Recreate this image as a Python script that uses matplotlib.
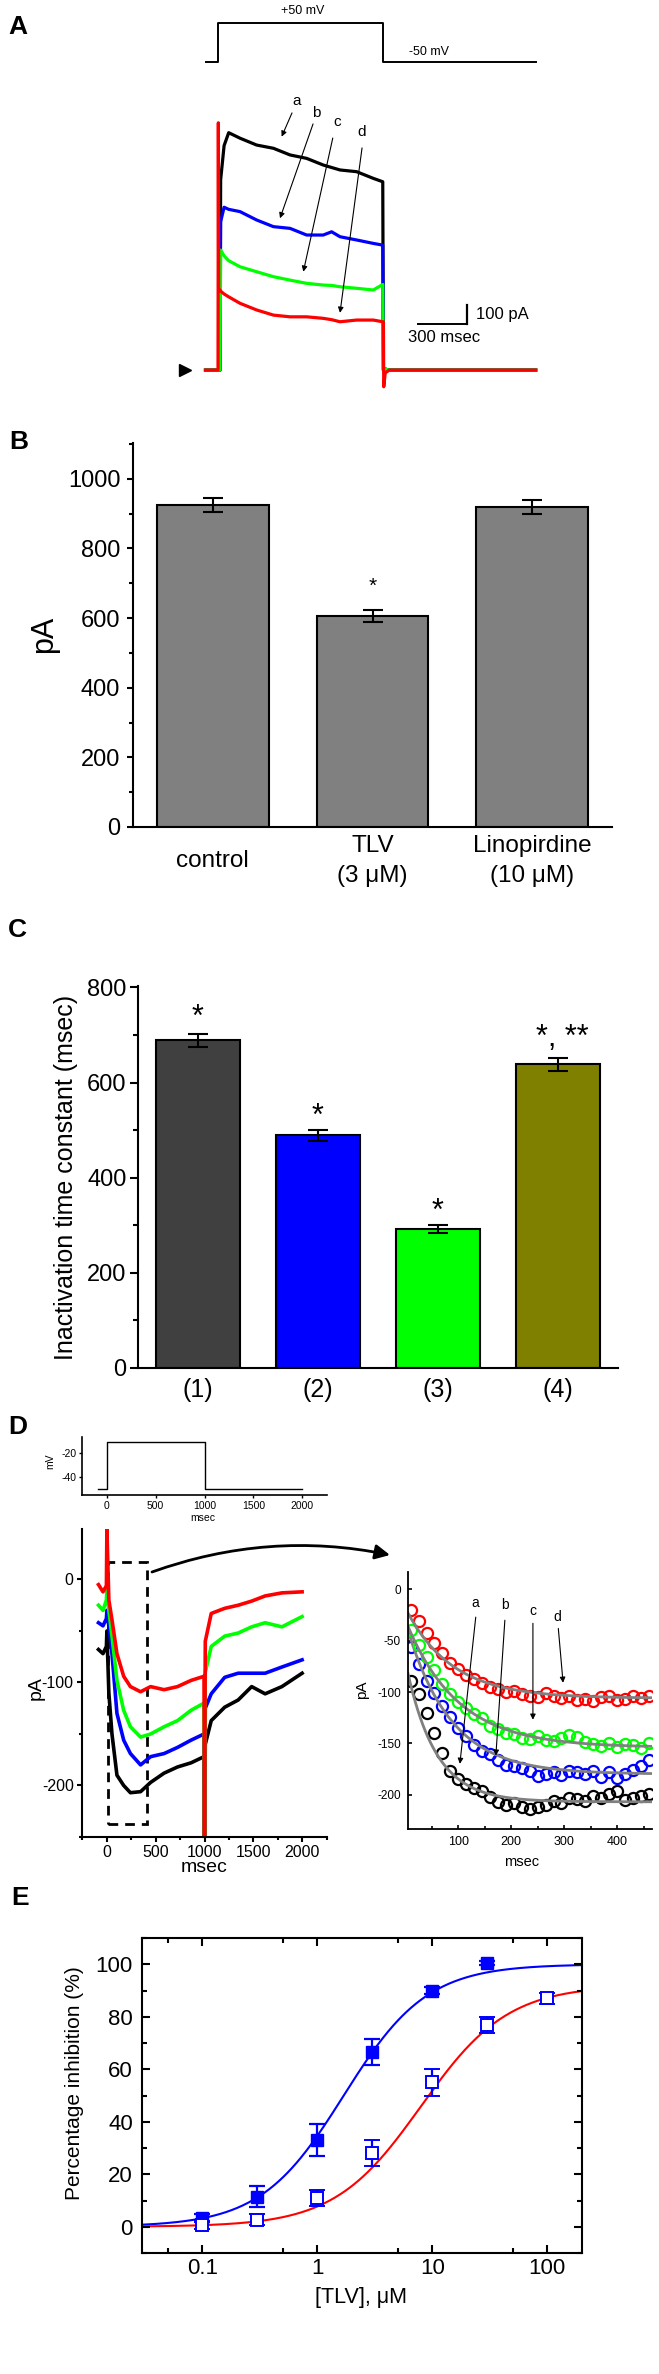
import numpy as np
import matplotlib
matplotlib.use("Agg")
import matplotlib.pyplot as plt
from matplotlib.patches import Rectangle
from matplotlib.ticker import MultipleLocator, FixedLocator, NullFormatter

plt.rcParams['font.family'] = ['Liberation Sans', 'DejaVu Sans']
plt.rcParams['axes.unicode_minus'] = False

W, H = 659, 2374

# ---------------- data ----------------
# A : voltage step and currents (a black, b blue, c green, d red), ms / pA
step_t = [-78, 0, 0, 1004, 1004, 1930]
step_mv = [-50, -50, 50, 50, -50, -50]

tr_t = [-78, -2, 0, 2, 10, 14, 35, 63, 132, 233, 335, 436, 537, 638, 689, 740,
        841, 942, 1000, 1004, 1006, 1015, 1040, 1300, 1600, 1930]
tr_black = [0, 0, 0, 0, 0, 1000, 1180, 1248, 1219, 1183, 1166, 1131, 1113, 1078, 1065, 1052,
            1043, 1008, 990, 0, 0, 5, 0, 0, 0, 0]
tr_blue = [0, 0, 0, 0, 0, 780, 856, 845, 833, 789, 754, 745, 710, 710, 727, 701,
           684, 666, 657, 0, 0, 5, 0, 0, 0, 0]
tr_green = [0, 0, 0, 0, 0, 631, 600, 575, 543, 517, 491, 473, 456, 447, 445, 438,
            430, 421, 450, 0, 0, 5, 0, 0, 0, 0]
tr_red = [0, 0, 1300, 421, 421, 415, 400, 385, 351, 316, 289, 280, 280, 272, 265, 254,
          263, 263, 254, 254, -88, -15, 0, 0, 0, 0]

# B : current amplitude
b_labels = ['control', 'TLV\n(3 μM)', 'Linopirdine\n(10 μM)']
b_mean = [925, 606, 920]
b_err = [19, 16, 20]

# C : inactivation time constant
c_labels = ['(1)', '(2)', '(3)', '(4)']
c_mean = [689, 489, 292, 638]
c_err = [14, 12, 9, 13]
c_colors = ['#404040', '#0000FF', '#00FF00', '#808000']

# D : voltage protocol, currents, and first 460 ms with fits
dv_t = [-86, 0, 0, 1000, 1000, 2000]
dv_mv = [-50, -50, -10, -10, -50, -50]

d_t = [-86, -40, -5, 0, 20, 52, 103, 172, 241, 345, 448, 586, 724, 862, 995, 1000,
       1008, 1069, 1207, 1345, 1483, 1621, 1793, 2000]
d_red = [-5, -12, -6, 49, -20, -39, -72, -94, -104, -109, -104, -107, -104, -98, -94, -250,
         -60, -33, -28, -25, -21, -16, -13, -12]
d_green = [-25, -30, -20, -10, -30, -55, -98, -127, -143, -153, -150, -143, -137, -127, -120, -250,
           -90, -65, -55, -52, -46, -42, -46, -36]
d_blue = [-42, -45, -38, -30, -45, -72, -130, -156, -169, -180, -172, -169, -163, -156, -150, -250,
          -125, -111, -95, -91, -91, -91, -85, -78]
d_black = [-68, -72, -65, -50, -110, -150, -190, -200, -207, -206, -197, -188, -182, -178, -172, -250,
           -160, -137, -124, -117, -104, -111, -104, -91]

z_t = [10, 25, 40, 55, 70, 85, 100, 115, 130, 145, 160, 175, 190, 205, 220, 235,
       250, 265, 280, 295, 310, 325, 340, 355, 370, 385, 400, 415, 430, 445, 460]
z_red = [-20, -31, -42, -52, -62, -72, -78, -83, -87, -91, -95, -97, -100, -99, -102, -104,
         -105, -101, -104, -106, -104, -108, -107, -109, -105, -104, -108, -107, -104, -106, -104]
z_green = [-40, -54, -66, -79, -92, -102, -110, -116, -121, -125, -133, -136, -140, -141, -145, -146,
           -143, -147, -148, -145, -142, -144, -149, -151, -153, -150, -154, -151, -152, -155, -150]
z_blue = [-56, -73, -89, -101, -114, -124, -135, -143, -152, -157, -160, -166, -171, -172, -174, -177,
          -182, -180, -178, -181, -177, -178, -180, -177, -183, -178, -184, -180, -176, -172, -166]
z_black = [-89, -102, -120, -140, -159, -177, -185, -190, -194, -196, -202, -207, -210, -208, -212, -214,
           -212, -210, -206, -208, -203, -204, -206, -201, -203, -199, -196, -205, -203, -201, -199]
# single-exponential fits: (start, steady state, tau)
fit_red = (-23, -106, 87)
fit_green = (-36, -154, 97)
fit_blue = (-40, -180, 83)
fit_black = (-82, -207, 55)

# E : concentration-response
conc_f = [0.1, 0.3, 1, 3, 10, 30]
inh_f = [3.4, 11.4, 33, 66.5, 90, 100.4]
err_f = [1.5, 4, 6, 5, 1.5, 0.8]
conc_o = [0.1, 0.3, 1, 3, 10, 30, 100]
inh_o = [0.8, 2.7, 11, 28, 55, 77, 87]
err_o = [1.5, 2, 3, 5, 5, 3, 2]
hill_f = (100, 1.7, 1.2)   # top, IC50, n
hill_o = (92, 8.0, 1.15)


def box(x0, y0, x1, y1):
    return [x0 / W, 1 - y1 / H, (x1 - x0) / W, (y1 - y0) / H]


def ftext(x, y, s, **kw):
    fig.text(x / W, 1 - y / H, s, ha=kw.pop('ha', 'center'), va=kw.pop('va', 'center'), **kw)


fig = plt.figure(figsize=(W / 100, H / 100), dpi=100)

for lab, x, y in [('A', 8, 27), ('B', 9, 442), ('C', 8, 930), ('D', 8, 1427), ('E', 11, 1898)]:
    ftext(x, y, lab, ha='left', fontsize=19, fontweight='bold')

# ---------------- A ----------------
xl_a = (-294, 2078)
av = fig.add_axes(box(170, 0, 560, 75))
av.plot(step_t, step_mv, color='black', lw=1.4)
av.set_xlim(xl_a)
av.set_ylim(-83.3, 109)
av.axis('off')
av.text(512, 81, '+50 mV', ha='center', va='center', fontsize=9)
av.text(1283, -24, '-50 mV', ha='center', va='center', fontsize=9)

aa = fig.add_axes(box(170, 80, 560, 395))
for y, c in [(tr_black, 'black'), (tr_blue, '#0000FF'), (tr_green, '#00FF00'), (tr_red, '#FF0000')]:
    aa.plot(tr_t, y, color=c, lw=2.3)
aa.set_xlim(xl_a)
aa.set_ylim(-131, 1525)
aa.axis('off')
aa.plot([-202], [0], marker='>', color='black', ms=9)
aa.plot([1213, 1513], [242, 242], color='black', lw=1.4)
aa.plot([1513, 1513], [242, 342], color='black', lw=1.6)
aa.text(1565, 292, '100 pA', ha='left', va='center', fontsize=12)
aa.text(1375, 170, '300 msec', ha='center', va='center', fontsize=12)
arr = dict(arrowstyle='-|>', lw=0.8, color='black', mutation_scale=8, shrinkA=0, shrinkB=0)
for s, tx, ty, x0, y0, x1, y1 in [('a', 478, 1415, 448, 1352, 385, 1227),
                                   ('b', 594, 1352, 576, 1294, 375, 798),
                                   ('c', 722, 1304, 696, 1220, 517, 517),
                                   ('d', 874, 1252, 874, 1168, 740, 301)]:
    aa.text(tx, ty, s, ha='center', va='center', fontsize=11)
    aa.annotate('', xy=(x1, y1), xytext=(x0, y0), arrowprops=arr)

# ---------------- B ----------------
ab = fig.add_axes(box(133, 443, 612, 827))
xb = np.arange(1, 4)
ab.bar(xb, b_mean, width=0.7, color='#808080', edgecolor='black', linewidth=1.5,
       yerr=b_err, capsize=7, error_kw=dict(elinewidth=1.5, capthick=1.5, ecolor='black'))
ab.text(2, 690, '*', ha='center', va='center', fontsize=15)
ab.set_xlim(0.5, 3.5)
ab.set_ylim(0, 1103)
ab.set_xticks(xb, b_labels, fontsize=17.5, linespacing=1.5)
for t in ab.get_xticklabels():
    t.set_va('center')
ab.tick_params(axis='x', length=0, pad=24.5)
ab.set_yticks(range(0, 1001, 200))
ab.yaxis.set_minor_locator(MultipleLocator(100))
ab.tick_params(axis='y', which='major', labelsize=17, length=4.5, width=1.5, pad=4.6)
ab.tick_params(axis='y', which='minor', length=3, width=1.5)
for s in ['top', 'right']:
    ab.spines[s].set_visible(False)
for s in ['left', 'bottom']:
    ab.spines[s].set_linewidth(1.5)
ftext(44, 634, 'pA', rotation=90, fontsize=22)

# ---------------- C ----------------
ac = fig.add_axes(box(138, 986, 618, 1368))
xc = np.arange(1, 5)
ac.bar(xc, c_mean, width=0.7, color=c_colors, edgecolor='black', linewidth=1.5,
       yerr=c_err, capsize=7, error_kw=dict(elinewidth=1.5, capthick=1.5, ecolor='black'))
for x, y, s in [(1, 735, '*'), (2, 528, '*'), (3, 328, '*'), (4.04, 694, '*, **')]:
    ac.text(x, y, s, ha='center', va='center', fontsize=22)
ac.set_xlim(0.5, 4.5)
ac.set_ylim(0, 803)
ac.set_xticks(xc, c_labels, fontsize=18)
ac.tick_params(axis='x', length=0, pad=7)
ac.set_yticks(range(0, 801, 200))
ac.yaxis.set_minor_locator(MultipleLocator(100))
ac.tick_params(axis='y', which='major', labelsize=17, length=5.5, width=1.5, pad=2.7)
ac.tick_params(axis='y', which='minor', length=3.5, width=1.5)
for s in ['top', 'right']:
    ac.spines[s].set_visible(False)
for s in ['left', 'bottom']:
    ac.spines[s].set_linewidth(1.5)
ftext(66, 1177, 'Inactivation time constant (msec)', rotation=90, fontsize=18)

# ---------------- D ----------------
xl_d = (-255, 2255)
adv = fig.add_axes(box(82, 1437, 327, 1495))
adv.plot(dv_t, dv_mv, color='black', lw=1.0)
adv.set_xlim(xl_d)
adv.set_ylim(-54.75, -6.2)
adv.set_yticks([-40, -20])
adv.set_xticks([0, 500, 1000, 1500, 2000])
adv.tick_params(labelsize=7.5, length=2.5, width=1, pad=1.5)
for s in ['top', 'right']:
    adv.spines[s].set_visible(False)
for s in ['left', 'bottom']:
    adv.spines[s].set_linewidth(1.2)
ftext(50, 1461, 'mV', rotation=90, fontsize=7.5)
ftext(203, 1518, 'msec', fontsize=7.5)

ad = fig.add_axes(box(82, 1529, 327, 1837))
for y, c in [(d_black, 'black'), (d_blue, '#0000FF'), (d_green, '#00FF00'), (d_red, '#FF0000')]:
    ad.plot(d_t, y, color=c, lw=2.6)
ad.add_patch(Rectangle((7, -237), 407, 254, fill=False, ls=(0, (3.5, 2.5)), lw=2, ec='black'))
ad.set_xlim(xl_d)
ad.set_ylim(-250, 49)
ad.set_yticks([-200, -100, 0])
ad.yaxis.set_minor_locator(MultipleLocator(50))
ad.set_xticks([0, 500, 1000, 1500, 2000])
ad.xaxis.set_minor_locator(MultipleLocator(250))
ad.tick_params(which='major', labelsize=11.5, length=3.6, width=1.5, pad=2.4)
ad.tick_params(which='minor', length=2.5, width=1.5)
for s in ['top', 'right']:
    ad.spines[s].set_visible(False)
for s in ['left', 'bottom']:
    ad.spines[s].set_linewidth(1.5)
ftext(36, 1688, 'pA', rotation=90, fontsize=14)
ftext(204, 1868, 'msec', fontsize=14)

ad.annotate('', xy=(390 / W, 1 - 1555 / H), xycoords='figure fraction',
            xytext=(152 / W, 1 - 1572 / H), textcoords='figure fraction',
            arrowprops=dict(arrowstyle='-|>', lw=2, color='black', mutation_scale=22,
                            connectionstyle='arc3,rad=-0.14', shrinkA=0, shrinkB=0))

az = fig.add_axes(box(408, 1572, 652, 1829))
tt = np.linspace(5, 466, 200)
for z, fit, c in [(z_black, fit_black, 'black'), (z_blue, fit_blue, '#0000FF'),
                  (z_green, fit_green, '#00FF00'), (z_red, fit_red, '#FF0000')]:
    az.plot(z_t, z, ls='none', marker='o', ms=8, mfc='none', mec=c, mew=1.6)
    y0, yss, tau = fit
    az.plot(tt, yss + (y0 - yss) * np.exp(-(tt - 5) / tau), color='#808080', lw=2)
for s, tx, ty, x0, y0, x1, y1 in [('a', 132, -13, 133, -27, 103, -170),
                                   ('b', 188, -15, 188, -30, 171, -162),
                                   ('c', 241, -21, 241, -33, 241, -127),
                                   ('d', 287, -27, 289, -38, 298, -91)]:
    az.text(tx, ty, s, ha='center', va='center', fontsize=10)
    az.annotate('', xy=(x1, y1), xytext=(x0, y0), arrowprops=arr)
az.set_xlim(5, 466)
az.set_ylim(-233.5, 17)
az.set_yticks([-200, -150, -100, -50, 0])
az.set_xticks([100, 200, 300, 400])
az.xaxis.set_minor_locator(MultipleLocator(50))
az.tick_params(which='both', direction='in', width=1.2)
az.tick_params(which='major', length=3, pad=5)
az.tick_params(axis='y', labelsize=8.5)
az.tick_params(axis='x', labelsize=9)
az.tick_params(which='minor', length=2)
for s in ['top', 'right']:
    az.spines[s].set_visible(False)
for s in ['left', 'bottom']:
    az.spines[s].set_linewidth(1.3)
ftext(362, 1690, 'pA', rotation=90, fontsize=11)
ftext(522, 1862, 'msec', fontsize=10.5)

# ---------------- E ----------------
ae = fig.add_axes(box(142, 1938, 582, 2253))
ae.set_xscale('log')
xx = np.logspace(np.log10(0.03), np.log10(200), 400)
for (top, ic50, nh), c in [(hill_f, '#0000FF'), (hill_o, '#FF0000')]:
    ae.plot(xx, top * xx ** nh / (xx ** nh + ic50 ** nh), color=c, lw=1.5, zorder=1)
ae.errorbar(conc_f, inh_f, yerr=err_f, fmt='s', color='#0000FF', ms=9, capsize=6,
            elinewidth=1.6, capthick=1.6, zorder=3)
ae.errorbar(conc_o, inh_o, yerr=err_o, fmt='s', color='#0000FF', mfc='white', mew=1.4, ms=9,
            capsize=6, elinewidth=1.6, capthick=1.6, zorder=3)
ae.set_xlim(0.03, 200)
ae.set_ylim(-10, 110)
ae.set_xticks([0.1, 1, 10, 100], ['0.1', '1', '10', '100'])
ae.xaxis.set_minor_locator(FixedLocator([0.05, 0.5, 5, 50]))
ae.xaxis.set_minor_formatter(NullFormatter())
ae.set_yticks(range(0, 101, 20))
ae.yaxis.set_minor_locator(MultipleLocator(10))
ae.tick_params(which='both', direction='in', top=True, right=True, width=1.5)
ae.tick_params(which='major', length=6, labelsize=16)
ae.tick_params(which='minor', length=3.5)
ae.tick_params(axis='y', pad=6.5)
ae.tick_params(axis='x', pad=3.5)
for s in ae.spines.values():
    s.set_linewidth(1.5)
ftext(74, 2083, 'Percentage inhibition (%)', rotation=90, fontsize=15)
ftext(361, 2297, '[TLV], μM', fontsize=15.5)

fig.savefig('out.png', dpi=100)
